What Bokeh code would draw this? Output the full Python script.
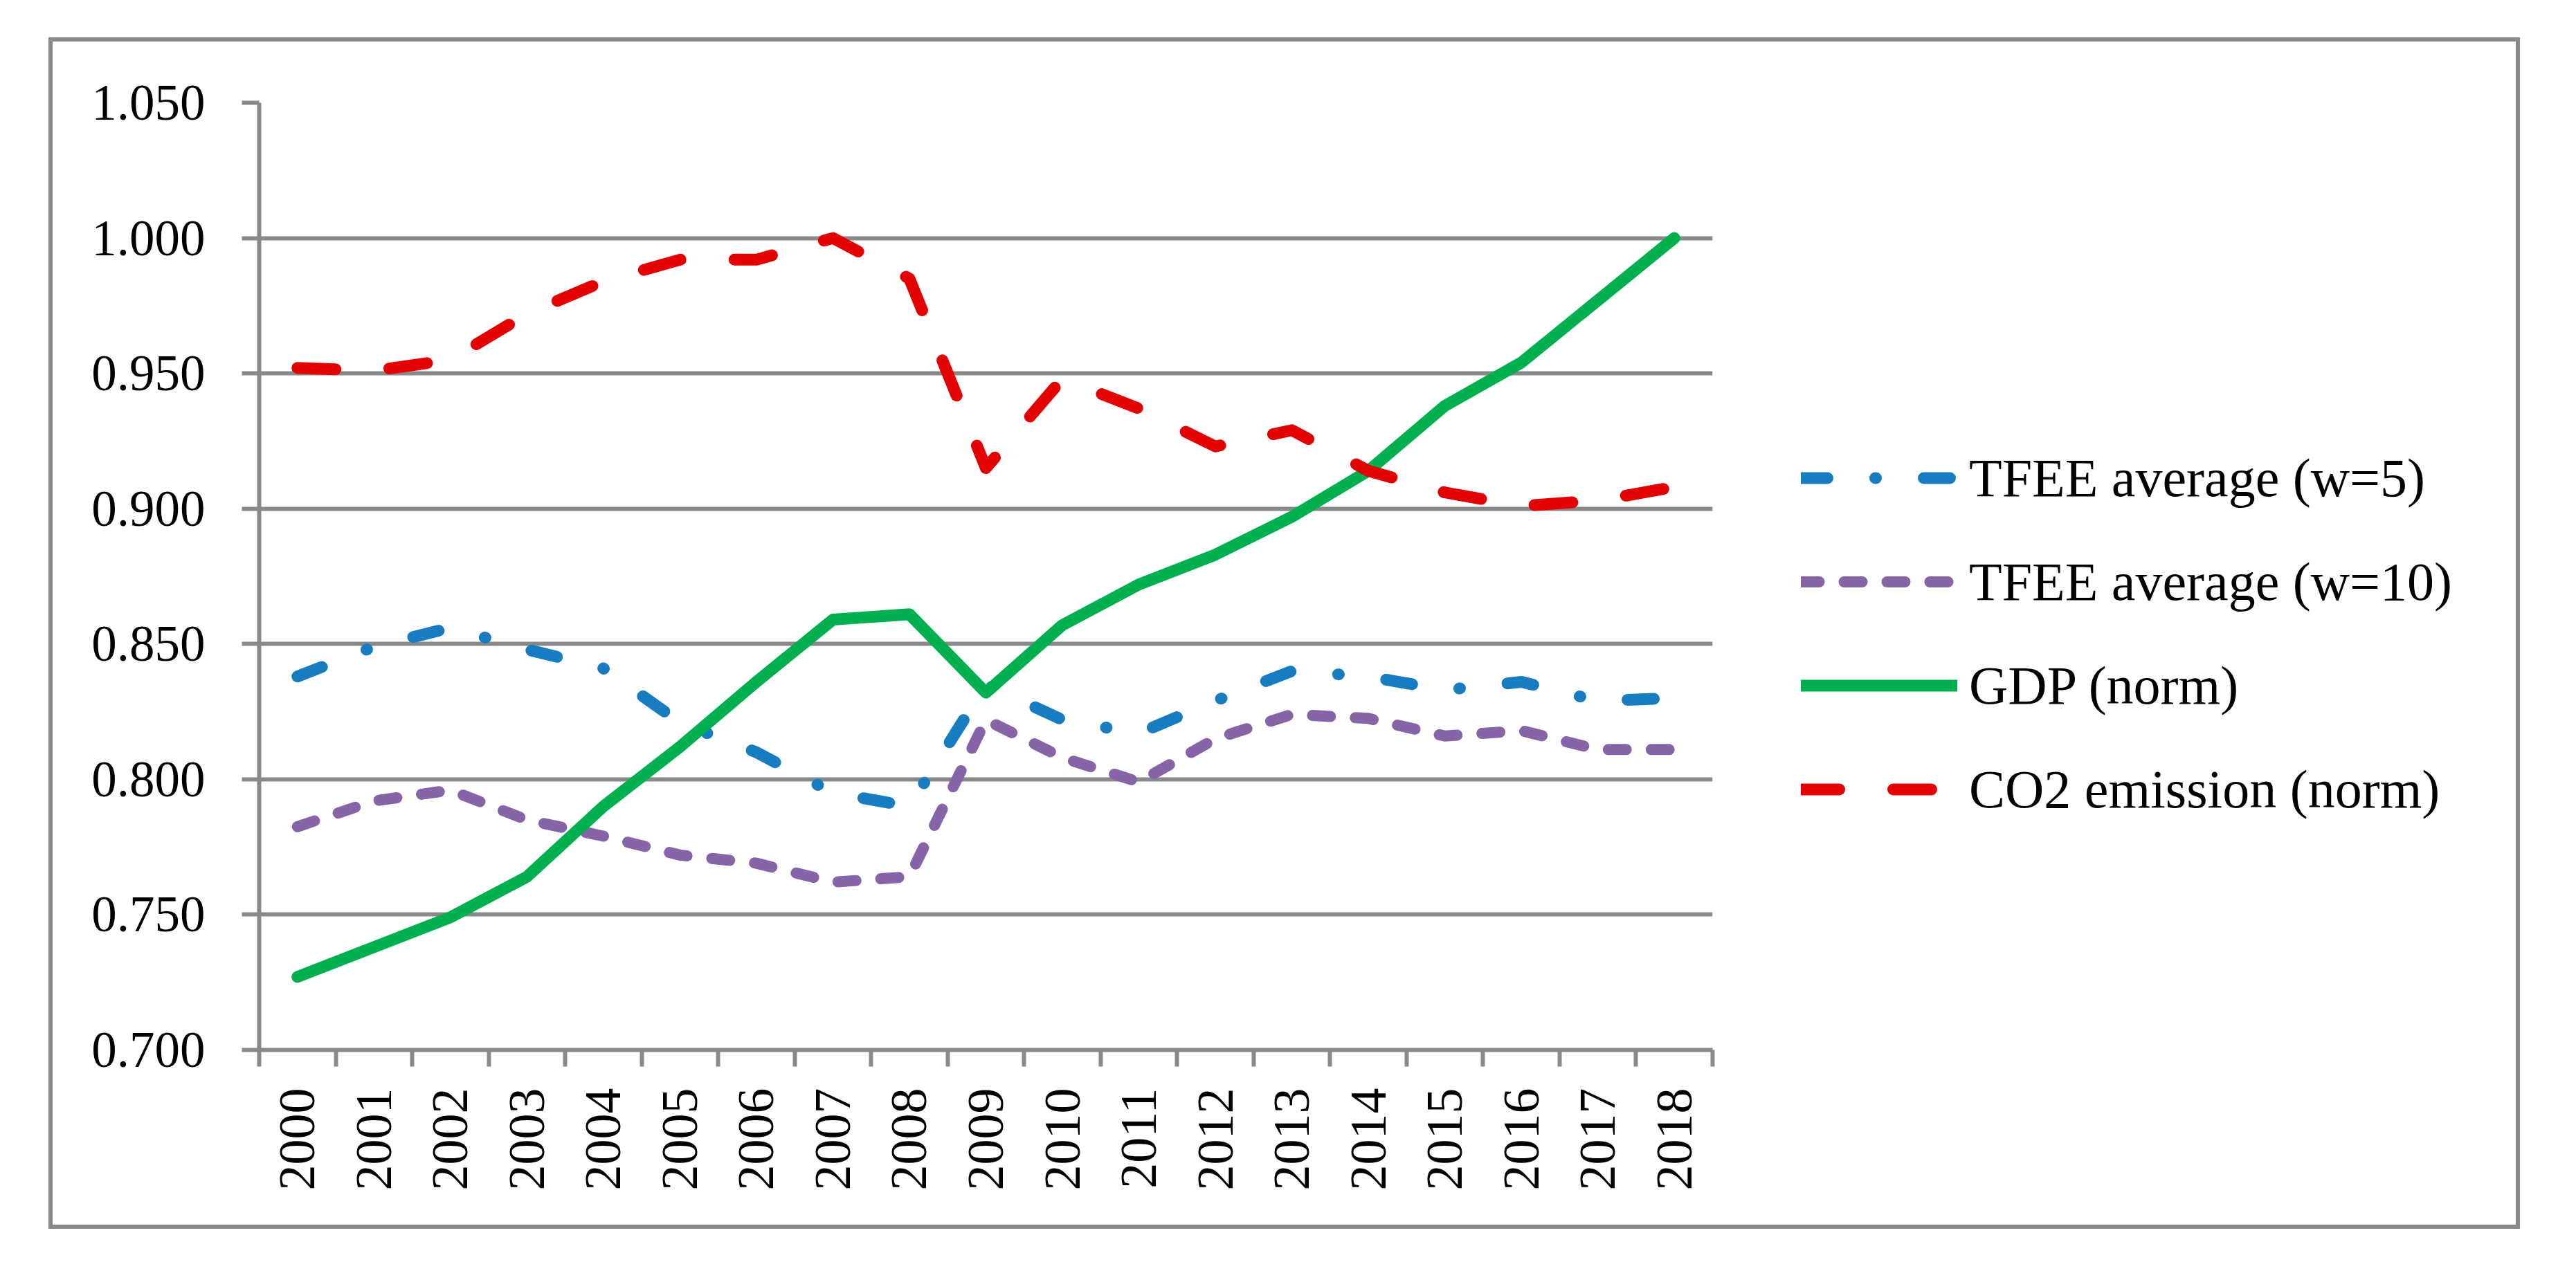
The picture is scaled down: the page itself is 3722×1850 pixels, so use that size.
import math
from bokeh.plotting import figure
from bokeh.layouts import row
from bokeh.models import (Range1d, FixedTicker, NumeralTickFormatter, Legend,
                          LegendItem, Spacer)
from bokeh.embed import file_html
from bokeh.resources import INLINE

# ---- data ----
years = ["2000", "2001", "2002", "2003", "2004", "2005", "2006", "2007", "2008",
         "2009", "2010", "2011", "2012", "2013", "2014", "2015", "2016", "2017", "2018"]

tfee_w5 = [0.838, 0.849, 0.856, 0.848, 0.841, 0.821, 0.810, 0.795, 0.790, 0.835,
           0.822, 0.817, 0.829, 0.840, 0.838, 0.833, 0.836, 0.829, 0.830]
tfee_w10 = [0.7825, 0.792, 0.796, 0.785, 0.779, 0.772, 0.769, 0.762, 0.764, 0.822,
            0.808, 0.799, 0.815, 0.824, 0.8225, 0.816, 0.818, 0.811, 0.811]
gdp_norm = [0.727, 0.738, 0.749, 0.764, 0.790, 0.812, 0.836, 0.859, 0.861, 0.832,
            0.857, 0.872, 0.883, 0.897, 0.914, 0.938, 0.954, 0.977, 1.000]
co2_norm = [0.952, 0.951, 0.955, 0.972, 0.984, 0.992, 0.992, 1.000, 0.985, 0.915,
            0.948, 0.937, 0.923, 0.929, 0.914, 0.906, 0.901, 0.903, 0.908]

y_ticks = [0.70, 0.75, 0.80, 0.85, 0.90, 0.95, 1.00, 1.05]

series_labels = ["TFEE average (w=5)", "TFEE average (w=10)", "GDP (norm)", "CO2 emission (norm)"]

# ---- styling ----
GRAY = "#898989"
FONT = "Liberation Serif"

x_idx = list(range(len(years)))

fig = figure(width=3679, height=1830,
             x_range=Range1d(-0.5, len(years) - 0.5),
             y_range=Range1d(y_ticks[0], y_ticks[-1]),
             output_backend="svg", toolbar_location=None,
             min_border_left=358, min_border_right=1221,
             min_border_top=148, min_border_bottom=313)
fig.outline_line_color = None
fig.background_fill_color = None
fig.border_fill_color = None
# outer chart-area border (drawn by CSS outline, inset inside the figure)
fig.styles = {"outline": "6px solid " + GRAY, "outline-offset": "-60px"}

# y axis
fig.yaxis.ticker = FixedTicker(ticks=y_ticks)
fig.yaxis.formatter = NumeralTickFormatter(format="0.000")
fig.yaxis.major_tick_out = 25
fig.yaxis.major_tick_in = 0
fig.yaxis.minor_tick_line_color = None
fig.yaxis.major_tick_line_color = GRAY
fig.yaxis.major_tick_line_width = 6
fig.yaxis.axis_line_color = GRAY
fig.yaxis.axis_line_width = 6
fig.yaxis.major_label_standoff = 53
fig.yaxis.major_label_text_font = FONT
fig.yaxis.major_label_text_font_size = "73px"
fig.yaxis.major_label_text_color = "black"

# x axis: labels at category centres, ticks at category boundaries
fig.xaxis.ticker = FixedTicker(ticks=x_idx, minor_ticks=[i - 0.5 for i in range(len(years) + 1)])
fig.xaxis.major_label_overrides = {i: y for i, y in zip(x_idx, years)}
fig.xaxis.major_tick_out = 0
fig.xaxis.major_tick_in = 0
fig.xaxis.major_tick_line_color = None
fig.xaxis.minor_tick_out = 24
fig.xaxis.minor_tick_in = 0
fig.xaxis.minor_tick_line_color = GRAY
fig.xaxis.minor_tick_line_width = 6
fig.xaxis.axis_line_color = GRAY
fig.xaxis.axis_line_width = 6
fig.xaxis.major_label_orientation = math.pi / 2
fig.xaxis.major_label_standoff = 31
fig.xaxis.major_label_text_font = FONT
fig.xaxis.major_label_text_font_size = "74px"
fig.xaxis.major_label_text_color = "black"

# grid
fig.xgrid.visible = False
fig.ygrid.ticker = FixedTicker(ticks=y_ticks)
fig.ygrid.grid_line_color = GRAY
fig.ygrid.grid_line_width = 6

common = dict(line_cap="round", line_join="round")
r_w5 = fig.line(x_idx, tfee_w5, line_color="#187DC0", line_width=17,
                line_dash="38 69 1 69", **common)
r_w10 = fig.line(x_idx, tfee_w10, line_color="#8764A8", line_width=16,
                 line_dash="26 36", **common)
r_gdp = fig.line(x_idx, gdp_norm, line_color="#00B04F", line_width=17, **common)
r_co2 = fig.line(x_idx, co2_norm, line_color="#E20000", line_width=17,
                 line_dash="55 78", **common)

legend = Legend(items=[LegendItem(label=lab, renderers=[r])
                       for lab, r in zip(series_labels, [r_w5, r_w10, r_gdp, r_co2])],
                location=(128, 330), orientation="vertical",
                glyph_width=226, glyph_height=93, label_height=93, spacing=57,
                padding=0, margin=0, label_standoff=17,
                border_line_color=None, background_fill_alpha=0,
                label_text_font=FONT, label_text_font_size="78px",
                label_text_color="black")
fig.add_layout(legend, "right")

p = row(Spacer(width=16, height=1830), fig)

open("out.html", "w").write(file_html(p, INLINE))
